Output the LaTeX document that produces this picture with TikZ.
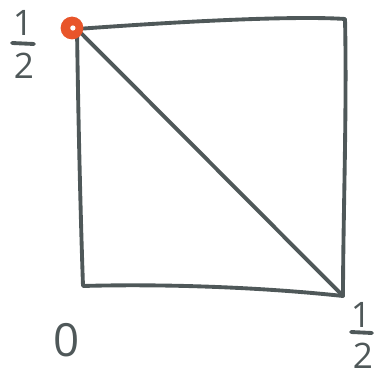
\documentclass[tikz,border=0pt]{standalone}
\usepackage{fontspec}
\setsansfont{Open Sans}
\usetikzlibrary{positioning}
\definecolor{ink}{HTML}{4F5859}
\definecolor{dot}{HTML}{E8552A}

\begin{document}
\begin{tikzpicture}[
  x=0.02cm, y=-0.02cm,
  edge/.style={draw=ink, line width=2.2pt, line cap=round, line join=round},
  lbl/.style={text=ink, font=\sffamily\fontsize{20}{22}\selectfont, inner sep=0pt},
  big/.style={lbl, font=\sffamily\fontsize{26}{28}\selectfont},
  pin/.style={circle, fill=dot, draw=dot, line width=1pt, minimum size=0.42cm, inner sep=0pt},
]
\useasboundingbox (0,0) rectangle (374,377);

\coordinate (tl) at (77,29);
\coordinate (tr) at (345,19);
\coordinate (br) at (343,296);
\coordinate (bl) at (83,286);

% square and diagonal
\draw[edge] (tl) .. controls (200,20) and (300,16) .. (tr)
  .. controls (347,110) and (343,220) .. (br);
\draw[edge] (br) .. controls (250,286) and (150,284) .. (bl)
  .. controls (80,200) and (78,100) .. (tl);
\draw[edge] (tl) -- (br);

\node[pin] (origin) at (72,28) {};
\fill[white] ([xshift=0.5pt]origin.center) circle (1.5pt);

% axis labels
\node[lbl] (ynum) at (23,23) {1};
\node[lbl] (yden) at (24,66) {2};
\draw[edge] (12,43) -- (34,44);

\node[big] (zero) at (67,340) {0};

\node[lbl] (xnum) at (361,315) {1};
\node[lbl] (xden) at (363,356) {2};
\draw[edge] (351,332) -- (372,333);
\end{tikzpicture}
\end{document}
